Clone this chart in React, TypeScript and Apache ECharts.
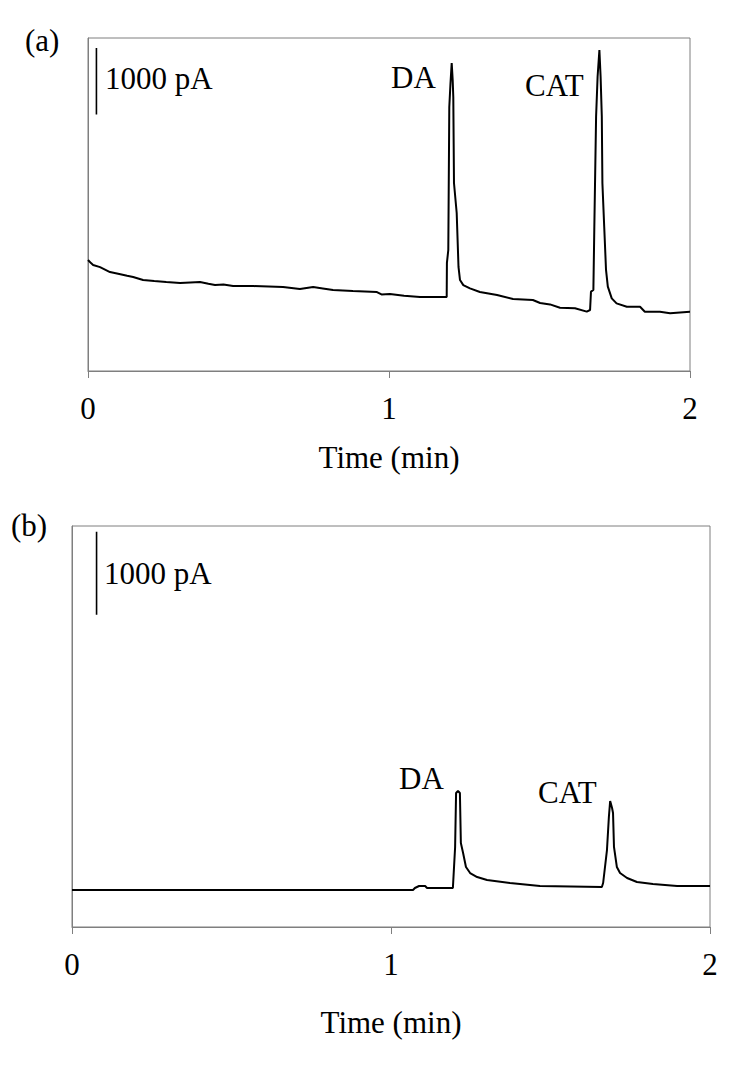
import React, { useEffect, useRef } from "react";
import * as echarts from "echarts";

// Panel (a) chromatogram: time (min) and current (pA)
const timeA = [
  0.0, 0.01, 0.017, 0.04, 0.073, 0.1, 0.13, 0.15, 0.183, 0.22, 0.26, 0.306, 0.34, 0.372, 0.4, 0.422,
  0.45, 0.482, 0.55, 0.6, 0.648, 0.704, 0.748, 0.78, 0.814, 0.88, 0.96, 0.975, 1.003, 1.05, 1.103,
  1.1917, 1.1924, 1.197, 1.2003, 1.2043, 1.2083, 1.2116, 1.2136, 1.2159, 1.2249, 1.2309, 1.2359,
  1.2468, 1.269, 1.302, 1.359, 1.412, 1.478, 1.502, 1.535, 1.568, 1.618, 1.657, 1.668, 1.671, 1.679,
  1.682, 1.688, 1.693, 1.699, 1.703, 1.707, 1.709, 1.715, 1.721, 1.727, 1.74, 1.756, 1.79, 1.834,
  1.85, 1.9, 1.934, 2.0,
];
const currentA = [
  1667, 1620, 1592, 1560, 1486, 1460, 1430, 1411, 1366, 1350, 1335, 1321, 1330, 1336, 1310, 1291,
  1300, 1276, 1275, 1268, 1261, 1231, 1261, 1240, 1216, 1200, 1186, 1150, 1156, 1130, 1111,
  1111, 1622, 1817, 3964, 4324, 4625, 4369, 4114, 2823, 2372, 1562, 1366,
  1290, 1240, 1186, 1141, 1081, 1066, 1021, 1000, 950, 941, 891, 916, 1191, 1216,
  2117, 3818, 4419, 4820, 4419, 3818, 2818, 2167, 1517, 1266, 1091, 1015, 965, 965,
  890, 890, 866, 890,
];

// Panel (b) chromatogram
const timeB = [
  0.0, 1.069, 1.075, 1.088, 1.107, 1.113, 1.194, 1.201, 1.204, 1.21, 1.216, 1.219, 1.226, 1.235,
  1.248, 1.27, 1.301, 1.373, 1.467, 1.661, 1.665, 1.677, 1.683, 1.687, 1.693, 1.696, 1.699, 1.708,
  1.718, 1.74, 1.771, 1.821, 1.897, 2.0,
];
const currentB = [
  446, 446, 470, 494, 494, 470, 470, 964, 1614, 1638, 1614, 1012, 891, 723,
  650, 602, 566, 530, 494, 482, 530, 927, 1325, 1518, 1433, 1373, 964, 723,
  650, 590, 542, 518, 494, 494,
];

const xTicks = [0, 1, 2];
const peakLabels = ["DA", "CAT"];
const scaleLabel = "1000 pA";
const panelLabels = ["(a)", "(b)"];

// 1000 pA scale bars (time position, bottom, top)
const scaleBarA = [[0.028, 3850], [0.028, 4850]];
const scaleBarB = [[0.077, 3760], [0.077, 4760]];

const FONT = "'Liberation Serif', 'Times New Roman', serif";
const GREY = "#7f7f7f";
const FS = 31;

function toPairs(t: number[], v: number[]) {
  return t.map((x, i) => [x, v[i]]);
}

export default function App() {
  const ref = useRef<HTMLDivElement>(null);
  useEffect(() => {
    if (!ref.current) return;
    const chart = echarts.init(ref.current, undefined, { renderer: "svg" });
    const xAxisBase = (gridIndex: number, nameGap: number) => ({
      type: "value",
      gridIndex,
      min: xTicks[0],
      max: xTicks[xTicks.length - 1],
      interval: 1,
      name: "Time (min)",
      nameLocation: "middle",
      nameGap,
      nameTextStyle: { fontFamily: FONT, fontSize: FS, color: "#000" },
      axisLine: { show: true, lineStyle: { color: GREY, width: 1 } },
      axisTick: { show: true, inside: false, length: 7, lineStyle: { color: GREY } },
      axisLabel: { show: true, fontFamily: FONT, fontSize: FS, color: "#000", margin: 22 },
      splitLine: { show: false },
    });
    const yAxisBase = (gridIndex: number, max: number) => ({
      type: "value",
      gridIndex,
      min: 0,
      max,
      axisLine: { show: true, lineStyle: { color: GREY, width: 1 } },
      axisTick: { show: false },
      axisLabel: { show: false },
      splitLine: { show: false },
    });
    const lineStyle = { color: "#000", width: 2 };
    const textStyle = (text: string, x: number, y: number) => ({
      type: "text",
      x,
      y,
      style: {
        text,
        fontFamily: FONT,
        fontSize: FS,
        fill: "#000",
        textAlign: "left",
        align: "left",
        textVerticalAlign: "middle",
        verticalAlign: "middle",
      },
    });
    chart.setOption({
      animation: false,
      backgroundColor: "#fff",
      grid: [
        { left: 88, top: 38, width: 602, height: 333, show: true, borderColor: GREY, borderWidth: 1 },
        { left: 72, top: 526, width: 638, height: 401, show: true, borderColor: GREY, borderWidth: 1 },
      ],
      xAxis: [xAxisBase(0, 71), xAxisBase(1, 80)],
      yAxis: [yAxisBase(0, 5000), yAxisBase(1, 4830)],
      series: [
        {
          type: "line", xAxisIndex: 0, yAxisIndex: 0, data: toPairs(timeA, currentA),
          showSymbol: false, lineStyle, silent: true,
        },
        {
          type: "line", xAxisIndex: 1, yAxisIndex: 1, data: toPairs(timeB, currentB),
          showSymbol: false, lineStyle, silent: true,
        },
        {
          type: "line", xAxisIndex: 0, yAxisIndex: 0, data: scaleBarA,
          showSymbol: false, lineStyle: { color: "#000", width: 1.6 }, silent: true,
        },
        {
          type: "line", xAxisIndex: 1, yAxisIndex: 1, data: scaleBarB,
          showSymbol: false, lineStyle: { color: "#000", width: 1.6 }, silent: true,
        },
      ],
      graphic: [
        textStyle(panelLabels[0], 25, 40),
        textStyle(panelLabels[1], 11, 525),
        textStyle(scaleLabel, 105, 78),
        textStyle(scaleLabel, 104, 573),
        textStyle(peakLabels[0], 391, 77),
        textStyle(peakLabels[1], 525, 85),
        textStyle(peakLabels[0], 399, 778),
        textStyle(peakLabels[1], 538, 792),
      ],
    });
    return () => chart.dispose();
  }, []);
  return (
    <div
      ref={ref}
      style={{ position: "absolute", left: 0, top: 0, width: 756, height: 1068, background: "#fff" }}
    />
  );
}
